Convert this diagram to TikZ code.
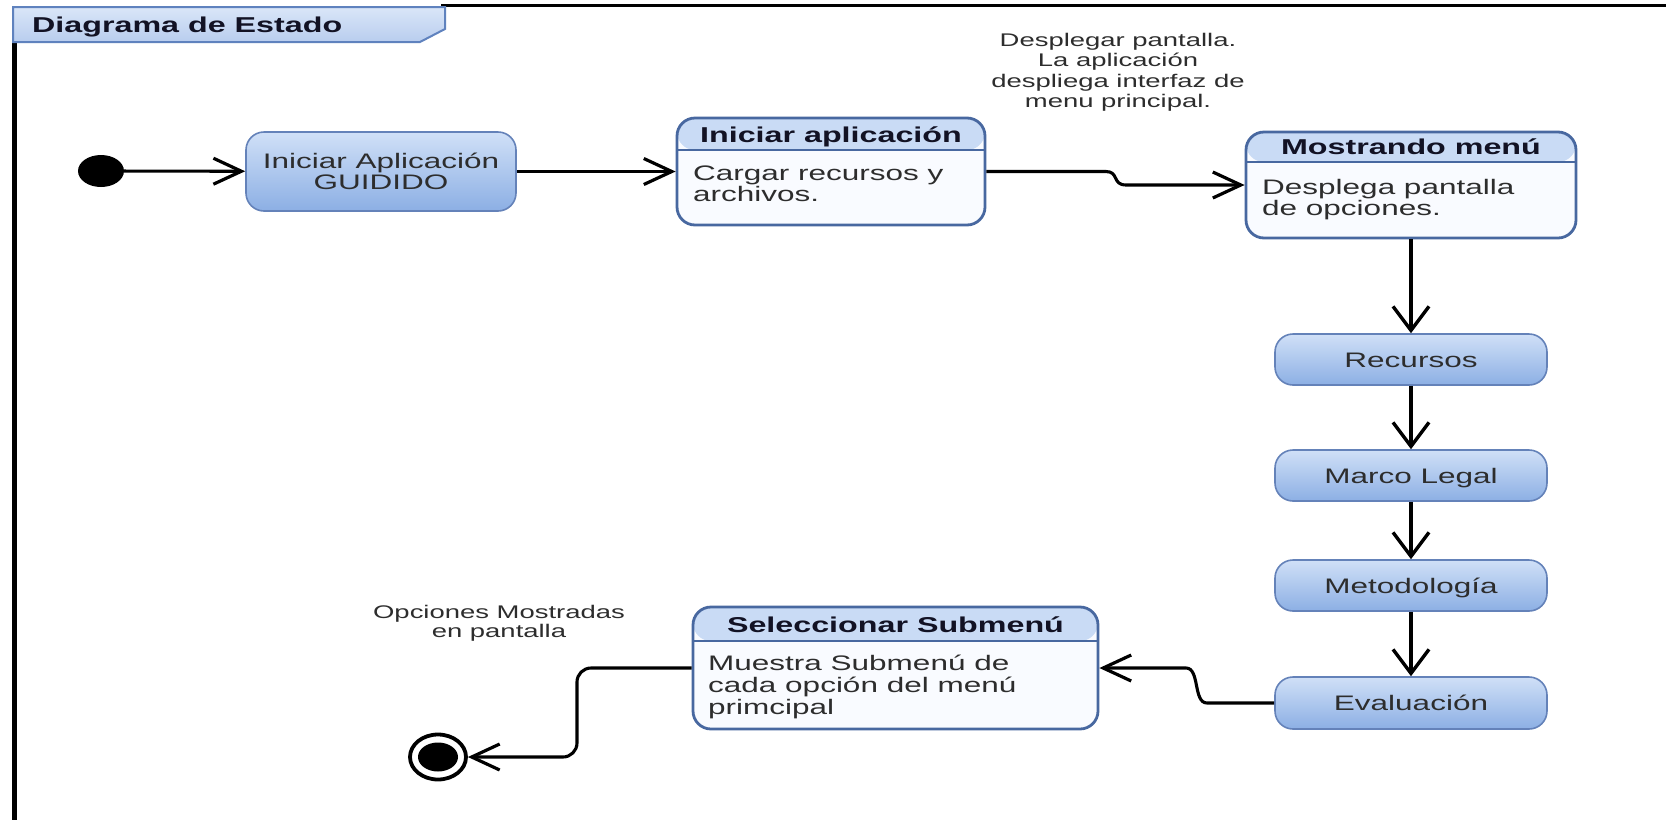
\documentclass[tikz,border=0pt]{standalone}
\usepackage{fontspec}
\newfontfamily\dfont[FakeStretch=1.5]{Liberation Sans}
\usetikzlibrary{arrows.meta,shapes.geometric}
\definecolor{simtop}{RGB}{208,224,247}
\definecolor{simbot}{RGB}{140,175,228}
\definecolor{simborder}{RGB}{100,130,185}
\definecolor{hdrfill}{RGB}{201,219,245}
\definecolor{bodyfill}{RGB}{249,251,255}
\definecolor{compborder}{RGB}{72,104,160}
\definecolor{tabtop}{RGB}{218,230,248}
\definecolor{tabbot}{RGB}{184,205,238}
\definecolor{tabborder}{RGB}{95,130,190}
\definecolor{txtgray}{RGB}{45,45,45}
\definecolor{txtdark}{RGB}{18,18,36}
\begin{document}
\begin{tikzpicture}[x=1pt,y=-1pt,
  simple/.style={draw=simborder, line width=1.6pt, rounded corners=18pt,
    top color=simtop, bottom color=simbot, inner sep=0pt},
  comp/.style={draw=compborder, line width=2.8pt, rounded corners=18pt,
    fill=bodyfill, inner sep=0pt,
    path picture={
      \fill[hdrfill] (path picture bounding box.north west) rectangle ([yshift=-#1pt]path picture bounding box.north east);
      \draw[compborder, line width=2pt] ([yshift=-#1pt]path picture bounding box.north west) -- ([yshift=-#1pt]path picture bounding box.north east);
    }},
  bodytxt/.style={font=\dfont\fontsize{21}{21}\selectfont, text=txtgray, inner sep=0pt},
  boldtxt/.style={font=\dfont\bfseries\fontsize{21.5}{21.5}\selectfont, text=txtdark, inner sep=0pt},
  notetxt/.style={font=\dfont\fontsize{18.3}{20.3}\selectfont, text=txtgray, inner sep=0pt, align=center},
  conH/.style={line width=3.1pt, -{Straight Barb[length=28pt,width=26pt,line width=3.2pt]}},
  conV/.style={line width=3.3pt, -{Straight Barb[length=24pt,width=36pt,line width=3.4pt]}},
  initst/.style={ellipse, fill=black, minimum width=46pt, minimum height=32pt, inner sep=0pt},
  finalst/.style={ellipse, draw=black, line width=3.8pt, fill=white, minimum width=56pt, minimum height=45pt, inner sep=0pt,
    path picture={\fill[black] (path picture bounding box.center) ellipse (20pt and 14.5pt);}}
]
\useasboundingbox (0,0) rectangle (1666,820);
\fill[white] (0,0) rectangle (1666,820);

% frame
\draw[line width=3pt] (441,5) -- (1666,5);
\draw[line width=5pt] (14,40) -- (14,820);
\draw[tabborder, line width=2pt, top color=tabtop, bottom color=tabbot]
  (13,7) -- (445,7) -- (445,29) -- (420,42) -- (13,42) -- cycle;
\node[boldtxt, anchor=base west] (ttl) at (32,32.5) {Diagrama de Estado};

% states
\node[initst] (init) at (101,171) {};
\node[simple, minimum width=270pt, minimum height=79pt] (b1) at (381,171.5) {};
\node[bodytxt, align=center, anchor=base] (t1) at (381,189.5) {Iniciar Aplicación\\GUIDIDO};

\node[comp=32, minimum width=308pt, minimum height=107pt] (b2) at (831,171.5) {};
\node[boldtxt, anchor=base] (h2) at (831,142.5) {Iniciar aplicación};
\node[bodytxt, align=left, anchor=base west] (t2) at (693,201.5) {Cargar recursos y\\archivos.};

\node[comp=30, minimum width=330pt, minimum height=106pt] (b3) at (1411,185) {};
\node[boldtxt, anchor=base] (h3) at (1411,154.5) {Mostrando menú};
\node[bodytxt, align=left, anchor=base west] (t3) at (1262,215.5) {Desplega pantalla\\de opciones.};

\node[simple, minimum width=272pt, minimum height=51pt] (rec) at (1411,359.5) {};
\node[bodytxt, anchor=base] (trec) at (1411,367) {Recursos};
\node[simple, minimum width=272pt, minimum height=51pt] (mar) at (1411,475.5) {};
\node[bodytxt, anchor=base] (tmar) at (1411,483) {Marco Legal};
\node[simple, minimum width=272pt, minimum height=51pt] (met) at (1411,585.5) {};
\node[bodytxt, anchor=base] (tmet) at (1411,593) {Metodología};
\node[simple, minimum width=272pt, minimum height=52pt] (eva) at (1411,703) {};
\node[bodytxt, anchor=base] (teva) at (1411,710.5) {Evaluación};

\node[comp=34, minimum width=405pt, minimum height=122pt] (sel) at (895.5,668) {};
\node[boldtxt, anchor=base] (hsel) at (895.5,632.5) {Seleccionar Submenú};
\node[bodytxt, align=left, anchor=base west, font=\dfont\fontsize{21}{22}\selectfont] (tsel) at (708,714.5) {Muestra Submenú de\\cada opción del menú\\primcipal};

\node[finalst] (fin) at (438,757) {};

% notes
\node[notetxt, anchor=base] (n1) at (1118,107.5) {Desplegar pantalla.\\La aplicación\\despliega interfaz de\\menu principal.};
\node[notetxt, anchor=base, font=\dfont\fontsize{18.3}{19}\selectfont] (n2) at (499,637) {Opciones Mostradas\\en pantalla};

% connectors
\draw[conH] (init) -- (b1);
\draw[conH] (b1) -- (b2);
\draw[conH] (b2.east) -- (1106,171.5) .. controls (1119,171.5) and (1112,185) .. (1126,185) -- (b3.west);
\draw[conV] (b3) -- (rec);
\draw[conV] (rec) -- (mar);
\draw[conV] (mar) -- (met);
\draw[conV] (met) -- (eva);
\draw[conH] (eva.west) -- (1207,703) .. controls (1193,703) and (1200,668) .. (1186,668) -- (sel.east);
\draw[conH, rounded corners=14pt] (sel.west) -- (577,668) -- (577,757) -- (fin.east);
\end{tikzpicture}
\end{document}
